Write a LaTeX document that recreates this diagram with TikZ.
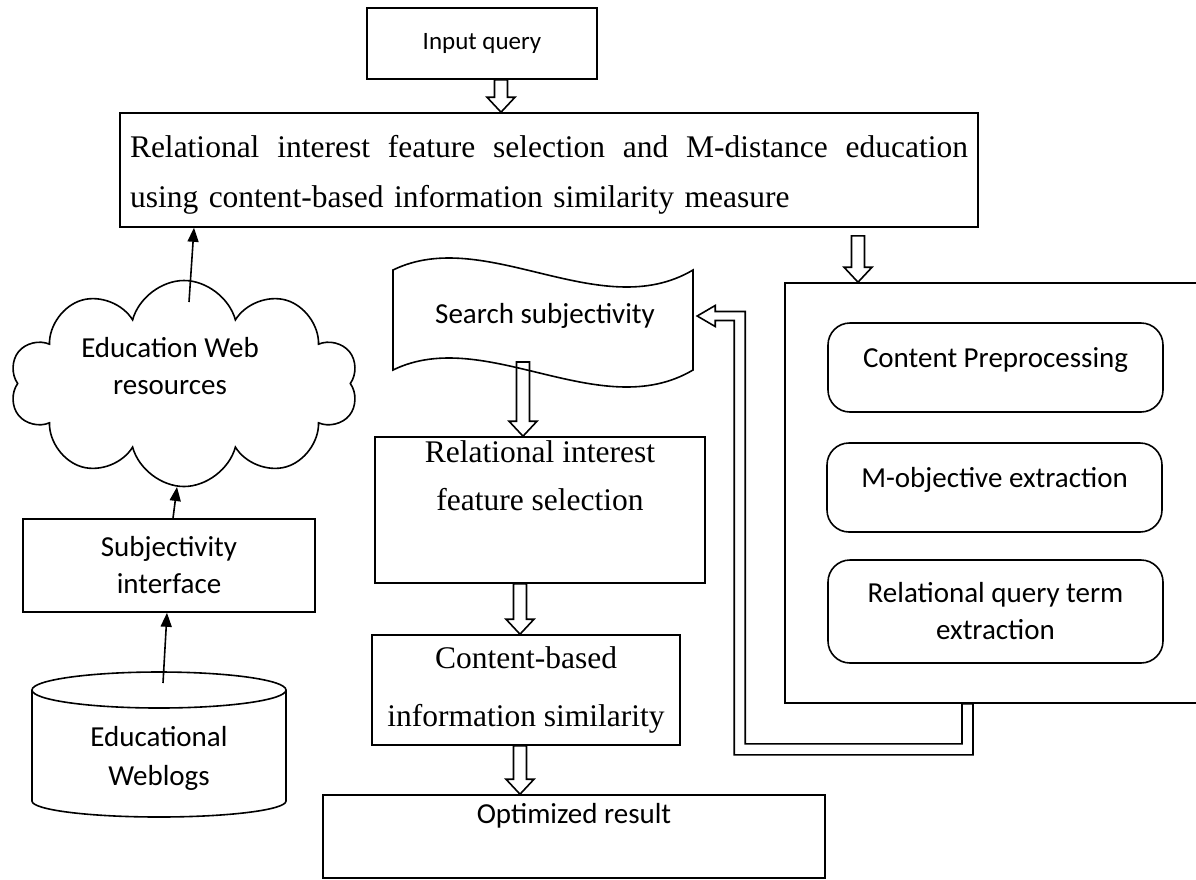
\documentclass[tikz,border=0pt]{standalone}
\usepackage{fontspec}
\setmainfont{Liberation Serif}
\newfontfamily\calfont{Carlito}
\usetikzlibrary{arrows.meta,calc,shapes.symbols}
\tikzset{
  frm/.style = {draw, line width=1.6pt, align=center, inner sep=2pt},
  sbox/.style = {frm, font=\calfont\fontsize{29}{37}\selectfont},% calibri like boxes
  tbox/.style = {frm, font=\fontsize{31.5}{48}\selectfont},% times like boxes
  rbox/.style = {sbox, rounded corners=22pt},
  lift/.style = {text depth=#1},
  lnk/.style = {line width=1.6pt, -{Triangle[length=14pt,width=11pt]}},
  hdown/.style = {line width=1.6pt, to path={let \p1=(\tikztostart), \p2=(\tikztotarget) in
      (\x1-6.5pt,\y1) -- (\x1-6.5pt,\y2+15pt) -- (\x1-14pt,\y2+15pt) -- (\x1,\y2)
      -- (\x1+14pt,\y2+15pt) -- (\x1+6.5pt,\y2+15pt) -- (\x1+6.5pt,\y1) -- cycle}},% hollow arrow
  pipe/.style = {line width=1.6pt, to path={let \p1=(\tikztostart), \p2=(\tikztotarget) in
      (\x1+5.5pt,\y1) -- (\x1+5.5pt,\y1-51pt) -- (\x2+37pt,\y1-51pt) -- (\x2+37pt,\y2-4.5pt)
      -- (\x2+18pt,\y2-4.5pt) -- (\x2+18pt,\y2-10.5pt) -- (\x2,\y2) -- (\x2+18pt,\y2+10.5pt)
      -- (\x2+18pt,\y2+4.5pt) -- (\x2+48pt,\y2+4.5pt) -- (\x2+48pt,\y1-40pt)
      -- (\x1-5.5pt,\y1-40pt) -- (\x1-5.5pt,\y1) -- cycle}}% bent hollow feedback
}
\begin{document}
\begin{tikzpicture}[x=1pt,y=-1pt]
\useasboundingbox (0,0) rectangle (1196,879);

% main column
\node[sbox, font=\calfont\fontsize{25}{30}\selectfont, minimum width=230pt, minimum height=71pt] (inq) at (482,43.5) {Input query};
\node[tbox, text width=838pt, align=left, inner xsep=10pt, minimum height=114pt,
  font=\fontsize{31.5}{50}\selectfont] (big) at (549,170)
  {\makebox[838pt][s]{\spaceskip=0.25em plus 1fil \rule{0pt}{32pt}Relational interest feature selection and M-distance education}\\using content-based information similarity measure};
\node[font=\calfont\fontsize{29}{37}\selectfont, minimum width=304pt] (srch) at (545,316) {Search subjectivity};
\draw[line width=1.6pt] (393,270) .. controls (485,225) and (600,325) .. (693,270) -- (693,370)
  .. controls (600,425) and (485,325) .. (393,370) -- cycle;
\node[tbox, minimum width=330pt, minimum height=146pt, lift=68pt] (rif) at (540,510) {Relational interest\\feature selection};
\node[tbox, font=\fontsize{31.5}{58}\selectfont, minimum width=308pt, minimum height=110pt] (cbis) at (526,690) {Content-based\\information similarity};
\node[sbox, minimum width=502pt, minimum height=83pt, lift=47pt] (opt) at (574,836.5) {Optimized result};

% right block
\node[frm, minimum width=413pt, minimum height=420pt] (outer) at (991.5,493) {};
\node[rbox, minimum width=335pt, minimum height=89pt, lift=20pt] (prep) at (995.5,367.5) {Content Preprocessing};
\node[rbox, minimum width=335pt, minimum height=89pt, lift=20pt] (mobj) at (994.5,487.5) {M-objective extraction};
\node[rbox, minimum width=335pt, minimum height=103pt] (rqte) at (995.5,611.5) {Relational query term\\extraction};

% left column
\node[sbox, cloud, cloud puffs=10, cloud ignores aspect, minimum width=348pt, minimum height=206pt, lift=36pt] (web) at (184,383.5)
  {Education Web\hspace*{28pt}\\resources\hspace*{28pt}};
\coordinate (cldtop) at (189,302);
\coordinate (cldbot) at (177,487);
\node[sbox, minimum width=292pt, minimum height=93pt] (iface) at (169,565.5) {Subjectivity\\interface};
\draw[line width=1.6pt] (159,690) ellipse [x radius=127, y radius=18];
\draw[line width=1.6pt] (32,690) -- (32,801) arc [start angle=180, end angle=0, x radius=127, y radius=16] -- (286,690);
\node[font=\calfont\fontsize{29}{39}\selectfont, align=center] (blogs) at (159,758) {Educational\\Weblogs};
\coordinate (blogtop) at (163,683);

% connectors
\draw[lnk] (blogtop) -- ([xshift=-2pt]iface.south);
\draw[lnk] ([xshift=4pt]iface.north) -- (cldbot);
\draw[lnk] (cldtop) -- ([xshift=-355pt]big.south);
\draw[hdown] ([xshift=19pt]inq.south) to (big.north);
\draw[hdown] ([shift={(309,8)}]big.south) to (outer.north);
\draw[hdown] ([shift={(-22,46)}]srch.center) to (rif.north);
\draw[hdown] ([xshift=-20pt]rif.south) to (cbis.north);
\draw[hdown] ([xshift=-6pt]cbis.south) to (opt.north);
\draw[pipe] ([xshift=-24pt]outer.south) to (srch.east);
\end{tikzpicture}
\end{document}
